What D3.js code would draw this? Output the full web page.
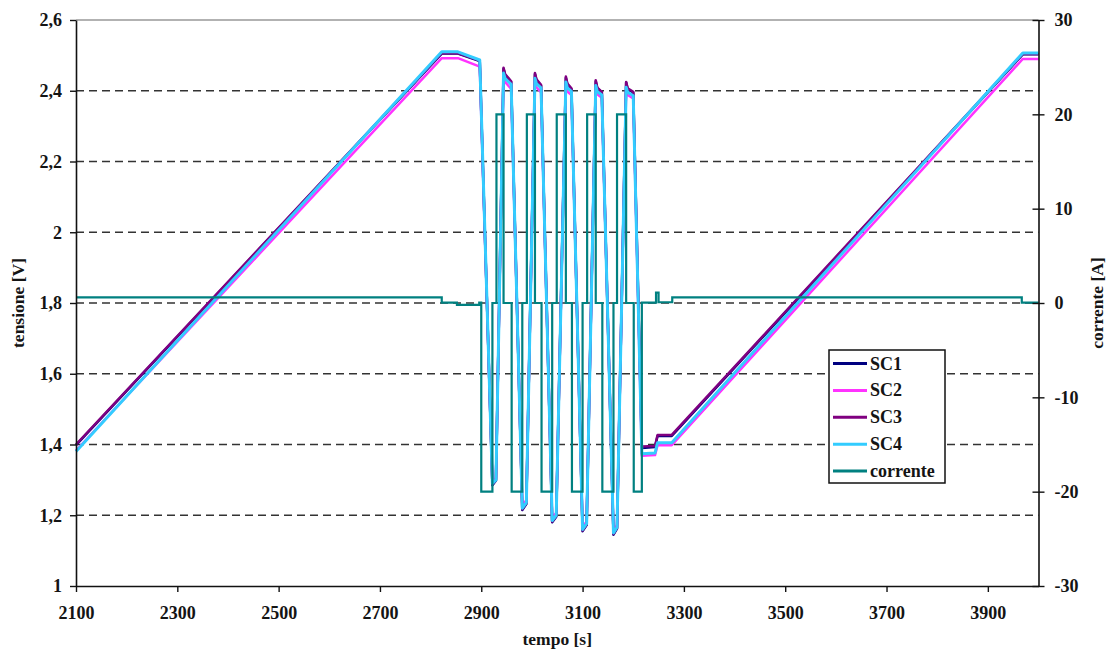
<!DOCTYPE html>
<html>
<head>
<meta charset="utf-8">
<script src="https://cdn.jsdelivr.net/npm/d3@7"></script>
<style>
  html, body { margin: 0; padding: 0; background: #fff; }
  text { font-family: "Liberation Serif", "Times New Roman", serif; font-weight: bold; fill: #141414; }
</style>
</head>
<body>
<svg id="chart" width="1110" height="655"></svg>
<script>
// ---------- data ----------
const tempoV = [2100, 2822, 2854, 2897, 2922, 2929, 2944, 2947, 2959, 2981, 2989, 3006, 3009, 3018,
                3040, 3048, 3067, 3070, 3078, 3100, 3108, 3126, 3129, 3138, 3161, 3168, 3186, 3189,
                3200, 3217, 3243, 3248, 3276, 3969, 4000];
const sc1 = [1.398, 2.505, 2.505, 2.484, 1.285, 1.298, 2.462, 2.445, 2.425, 1.215, 1.232, 2.447, 2.430, 2.415,
             1.180, 1.196, 2.437, 2.418, 2.405, 1.155, 1.172, 2.427, 2.407, 2.395, 1.145, 1.162, 2.423, 2.405,
             2.395, 1.390, 1.393, 1.424, 1.424, 2.503, 2.503];
const sc2 = [1.383, 2.492, 2.492, 2.468, 1.295, 1.305, 2.440, 2.425, 2.405, 1.228, 1.242, 2.425, 2.410, 2.395,
             1.192, 1.207, 2.415, 2.398, 2.388, 1.167, 1.182, 2.408, 2.390, 2.380, 1.157, 1.172, 2.403, 2.388,
             2.378, 1.368, 1.370, 1.398, 1.398, 2.490, 2.490];
const sc3 = [1.400, 2.506, 2.506, 2.485, 1.287, 1.300, 2.465, 2.447, 2.427, 1.217, 1.234, 2.450, 2.432, 2.417,
             1.182, 1.198, 2.440, 2.420, 2.407, 1.157, 1.174, 2.430, 2.409, 2.397, 1.147, 1.164, 2.425, 2.407,
             2.397, 1.394, 1.396, 1.427, 1.427, 2.504, 2.504];
const sc4 = [1.380, 2.510, 2.510, 2.487, 1.290, 1.300, 2.450, 2.435, 2.418, 1.220, 1.236, 2.435, 2.420, 2.408,
             1.185, 1.200, 2.425, 2.408, 2.398, 1.160, 1.176, 2.415, 2.398, 2.388, 1.150, 1.166, 2.410, 2.396,
             2.386, 1.374, 1.376, 1.405, 1.405, 2.507, 2.507];

const tempoI = [2100, 2822, 2852, 2896, 2900, 2922, 2930, 2944, 2960, 2981, 2990, 3006, 3019, 3040, 3049,
                3067, 3079, 3100, 3109, 3126, 3139, 3161, 3168, 3186, 3201, 3217, 3245, 3250, 3277, 3967, 4000];
const corrente = [0.6, 0.05, -0.2, 0.05, -20, 0, 20, 0, -20, 0, 20, 0, -20, 0, 20,
                  0, -20, 0, 20, 0, -20, 0, 20, 0, -20, 0.05, 1.1, 0.08, 0.6, 0.05, 0.05];

const seriesNames = ["SC1", "SC2", "SC3", "SC4", "corrente"];
const seriesColors = ["#000080", "#ff33ff", "#800080", "#33ccff", "#008080"];

const xTicks = [2100, 2300, 2500, 2700, 2900, 3100, 3300, 3500, 3700, 3900];
const xTickLabels = ["2100", "2300", "2500", "2700", "2900", "3100", "3300", "3500", "3700", "3900"];
const yTicks = [1, 1.2, 1.4, 1.6, 1.8, 2, 2.2, 2.4, 2.6];
const yTickLabels = ["1", "1,2", "1,4", "1,6", "1,8", "2", "2,2", "2,4", "2,6"];
const y2Ticks = [-30, -20, -10, 0, 10, 20, 30];
const y2TickLabels = ["-30", "-20", "-10", "0", "10", "20", "30"];
const gridValues = [1.2, 1.4, 1.6, 1.8, 2, 2.2, 2.4];

// ---------- layout ----------
const L = 76, R = 1038.5, T = 20, B = 586;
const svg = d3.select("#chart");
svg.append("rect").attr("width", 1110).attr("height", 655).attr("fill", "#fff");

const x = d3.scaleLinear().domain([2100, 4000]).range([L, R]);
const y = d3.scaleLinear().domain([1, 2.6]).range([B, T]);
const y2 = d3.scaleLinear().domain([-30, 30]).range([B, T]);

// gridlines
svg.append("g").selectAll("line").data(gridValues).join("line")
  .attr("x1", L).attr("x2", R)
  .attr("y1", d => y(d)).attr("y2", d => y(d))
  .attr("stroke", "#333").attr("stroke-width", 1.4).attr("stroke-dasharray", "8,5");

// top border
svg.append("line").attr("x1", L).attr("x2", R).attr("y1", T).attr("y2", T)
  .attr("stroke", "#999").attr("stroke-width", 1.5);

// series
const vData = [sc1, sc2, sc3, sc4];
const lineV = d3.line().x(d => x(d[0])).y(d => y(d[1]));
const widths = [2.5, 2.5, 2.5, 3];
vData.forEach((vals, k) => {
  svg.append("path")
    .attr("d", lineV(tempoV.map((t, i) => [t, vals[i]])))
    .attr("fill", "none").attr("stroke", seriesColors[k])
    .attr("stroke-width", widths[k]).attr("stroke-linejoin", "round");
});
const lineI = d3.line().x(d => x(d[0])).y(d => y2(d[1])).curve(d3.curveStepAfter);
svg.append("path")
  .attr("d", lineI(tempoI.map((t, i) => [t, corrente[i]])))
  .attr("fill", "none").attr("stroke", seriesColors[4]).attr("stroke-width", 2.2);

// axes
const axX = svg.append("g").attr("transform", `translate(0,${B})`)
  .call(d3.axisBottom(x).tickValues(xTicks).tickFormat((d, i) => xTickLabels[i]).tickSize(6).tickSizeOuter(0).tickPadding(14));
const axY = svg.append("g").attr("transform", `translate(${L},0)`)
  .call(d3.axisLeft(y).tickValues(yTicks).tickFormat((d, i) => yTickLabels[i]).tickSize(6).tickSizeOuter(0).tickPadding(8));
const axY2 = svg.append("g").attr("transform", `translate(${R},0)`)
  .call(d3.axisRight(y2).tickValues(y2Ticks).tickFormat((d, i) => y2TickLabels[i]).tickSize(6).tickSizeOuter(0).tickPadding(10));
axY2.selectAll(".tick line").attr("x1", -6);
[axX, axY, axY2].forEach(a => {
  a.select(".domain").attr("stroke", "#111").attr("stroke-width", 1.6);
  a.selectAll(".tick line").attr("stroke", "#111").attr("stroke-width", 1.4);
  a.selectAll(".tick text").attr("font-size", 18).attr("fill", "#141414");
});

// axis titles
svg.append("text").attr("x", (L + R) / 2).attr("y", 645).attr("text-anchor", "middle")
  .attr("font-size", 17.5).text("tempo [s]");
svg.append("text").attr("transform", `translate(24,${(T + B) / 2}) rotate(-90)`).attr("text-anchor", "middle")
  .attr("font-size", 17.5).text("tensione [V]");
svg.append("text").attr("transform", `translate(1103,${(T + B) / 2}) rotate(-90)`).attr("text-anchor", "middle")
  .attr("font-size", 17.5).text("corrente [A]");

// legend
const lg = svg.append("g");
lg.append("rect").attr("x", 829).attr("y", 350).attr("width", 116).attr("height", 133)
  .attr("fill", "#fff").attr("stroke", "#111").attr("stroke-width", 1.5);
seriesNames.forEach((n, i) => {
  const yy = 363.5 + i * 26.9;
  lg.append("line").attr("x1", 833).attr("x2", 867).attr("y1", yy).attr("y2", yy)
    .attr("stroke", seriesColors[i]).attr("stroke-width", 3);
  lg.append("text").attr("x", 870).attr("y", yy + 6).attr("font-size", 18).text(n);
});
</script>
</body>
</html>
